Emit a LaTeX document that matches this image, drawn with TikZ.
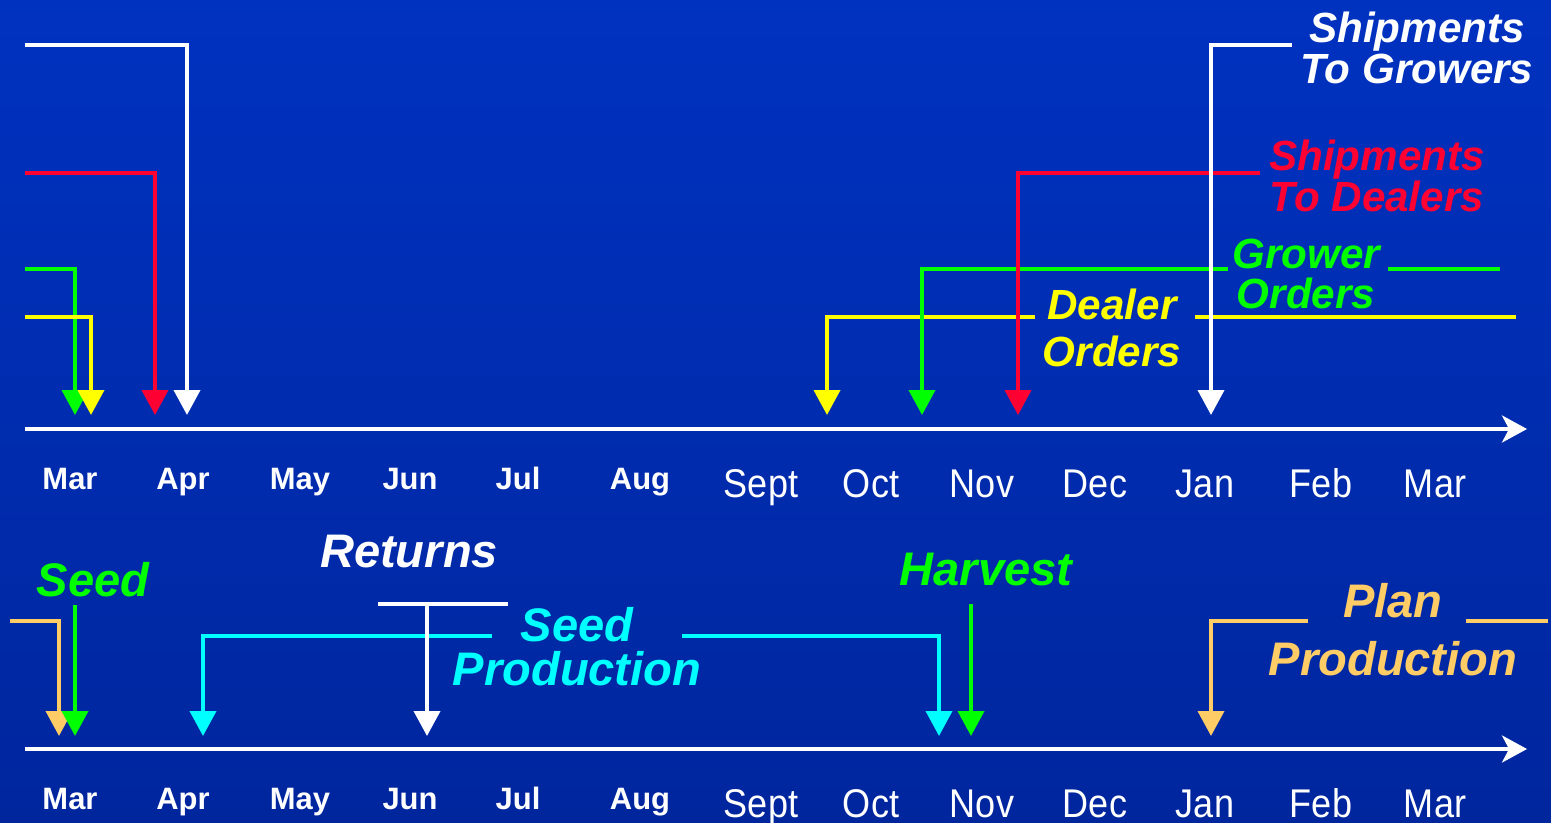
\documentclass[tikz,border=0pt]{standalone}
\usepackage{fontspec}
\setmainfont{Liberation Sans}
\newfontfamily\narrowsans[FakeStretch=0.9]{Liberation Sans}
\usetikzlibrary{arrows.meta}
\definecolor{bgtop}{RGB}{0,50,192}
\definecolor{bgbot}{RGB}{0,38,158}
\definecolor{shipred}{RGB}{255,0,51}
\definecolor{plangold}{RGB}{255,204,102}
\definecolor{seedcyan}{RGB}{0,255,255}
\definecolor{ordgreen}{RGB}{0,255,0}
\definecolor{ordyellow}{RGB}{255,255,0}
\begin{document}
\begin{tikzpicture}[
  tl/.style={line width=1.1pt, -{Triangle[width=2.6mm,length=2.5mm]}},
  ln/.style={line width=1.1pt},
  axis/.style={line width=1.1pt, white, -{Stealth[length=2.5mm,width=2.7mm,inset=0.7mm]}},
  mb/.style={anchor=base, text=white, font=\fontsize{8.8}{10}\selectfont\bfseries},
  mr/.style={anchor=base, text=white, font=\fontsize{11.4}{13}\selectfont\narrowsans},
  lbl/.style={inner sep=0pt, align=center, font=\fontsize{12}{11.5}\selectfont\bfseries\itshape},
  blbl/.style={inner sep=0pt, align=center, font=\fontsize{13.4}{12.5}\selectfont\bfseries\itshape}]
  \shade[top color=bgtop, bottom color=bgbot] (0,0) rectangle (15.51,8.22);
  \useasboundingbox (0,0) rectangle (15.51,8.22);
  % time axes
  \coordinate (axTs) at (0.25,3.93); \coordinate (axTe) at (15.27,3.93);
  \coordinate (axBs) at (0.25,0.73); \coordinate (axBe) at (15.27,0.73);
  \draw[axis] (axTs) -- (axTe); \draw[axis] (axBs) -- (axBe);
  % month labels
  \foreach \m/\x [count=\i] in {Mar/0.70,Apr/1.83,May/3.00,Jun/4.10,Jul/5.18,Aug/6.40} {
    \node[mb] (mt\i) at (\x,3.33) {\m}; \node[mb] (mb\i) at (\x,0.13) {\m}; }
  \foreach \m/\x [count=\i] in {Sept/7.61,Oct/8.71,Nov/9.82,Dec/10.95,Jan/12.05,Feb/13.21,Mar/14.35} {
    \node[mr] (nt\i) at (\x,3.25) {\m}; \node[mr] (nb\i) at (\x,0.05) {\m}; }
  % upper labels
  \node[lbl,text=white] (shipG) at (14.17,7.74) {Shipments\\To Growers};
  \node[lbl,text=shipred] (shipD) at (13.77,6.46) {Shipments\\To Dealers};
  \node[lbl,text=ordgreen] (growO) at (13.06,5.48) {Grower\\Orders};
  \node[lbl,text=ordyellow,font=\fontsize{12}{13.3}\selectfont\bfseries\itshape] (dealO) at (11.12,4.94) {Dealer\\Orders};
  % upper season (left part)
  \coordinate (goL) at (0.25,5.53); \coordinate (goLt) at (0.75,4.07);
  \coordinate (yoL) at (0.25,5.05); \coordinate (yoLt) at (0.91,4.07);
  \coordinate (rdL) at (0.25,6.49); \coordinate (rdLt) at (1.55,4.07);
  \coordinate (wgL) at (0.25,7.77); \coordinate (wgLt) at (1.87,4.07);
  \draw[tl,ordgreen] (goL) -| (goLt);
  \draw[tl,ordyellow] (yoL) -| (yoLt);
  \draw[tl,shipred] (rdL) -| (rdLt);
  \draw[tl,white] (wgL) -| (wgLt);
  % upper season (right part)
  \coordinate (yoR) at (10.35,5.05); \coordinate (yoRt) at (8.27,4.07);
  \coordinate (yoRa) at (11.95,5.05); \coordinate (yoRb) at (15.16,5.05);
  \coordinate (goR) at (12.28,5.53); \coordinate (goRt) at (9.22,4.07);
  \coordinate (goRa) at (13.88,5.53); \coordinate (goRb) at (15.00,5.53);
  \coordinate (rdR) at (12.60,6.49); \coordinate (rdRt) at (10.18,4.07);
  \coordinate (wgR) at (12.92,7.77); \coordinate (wgRt) at (12.11,4.07);
  \draw[tl,ordyellow] (yoR) -| (yoRt); \draw[ln,ordyellow] (yoRa) -- (yoRb);
  \draw[tl,ordgreen] (goR) -| (goRt); \draw[ln,ordgreen] (goRa) -- (goRb);
  \draw[tl,shipred] (rdR) -| (rdRt);
  \draw[tl,white] (wgR) -| (wgRt);
  % lower labels
  \node[blbl,text=ordgreen] (seedL) at (0.93,2.42) {Seed};
  \node[blbl,text=white] (retL) at (4.09,2.70) {Returns};
  \node[blbl,text=ordgreen] (harvL) at (9.86,2.52) {Harvest};
  \node[blbl,text=seedcyan] (seedP) at (5.77,1.75) {Seed\\Production};
  \node[blbl,text=plangold,font=\fontsize{13.4}{16.5}\selectfont\bfseries\itshape] (planP) at (13.93,1.92) {Plan\\Production};
  % lower season
  \coordinate (ppL) at (0.10,2.01); \coordinate (ppLt) at (0.59,0.86);
  \coordinate (sd) at (0.75,2.17); \coordinate (sdt) at (0.75,0.86);
  \coordinate (spL) at (4.92,1.86); \coordinate (spLt) at (2.03,0.86);
  \coordinate (spR) at (6.82,1.86); \coordinate (spRt) at (9.39,0.86);
  \coordinate (rtA) at (3.78,2.18); \coordinate (rtB) at (5.08,2.18);
  \coordinate (rtC) at (4.27,2.18); \coordinate (rtt) at (4.27,0.86);
  \coordinate (hv) at (9.71,2.18); \coordinate (hvt) at (9.71,0.86);
  \coordinate (ppR) at (13.08,2.01); \coordinate (ppRt) at (12.11,0.86);
  \coordinate (ppRa) at (14.66,2.01); \coordinate (ppRb) at (15.48,2.01);
  \draw[tl,plangold] (ppL) -| (ppLt);
  \draw[tl,ordgreen] (sd) -- (sdt);
  \draw[tl,seedcyan] (spL) -| (spLt);
  \draw[tl,seedcyan] (spR) -| (spRt);
  \draw[ln,white] (rtA) -- (rtB); \draw[tl,white] (rtC) -- (rtt);
  \draw[tl,ordgreen] (hv) -- (hvt);
  \draw[tl,plangold] (ppR) -| (ppRt); \draw[ln,plangold] (ppRa) -- (ppRb);
\end{tikzpicture}
\end{document}
